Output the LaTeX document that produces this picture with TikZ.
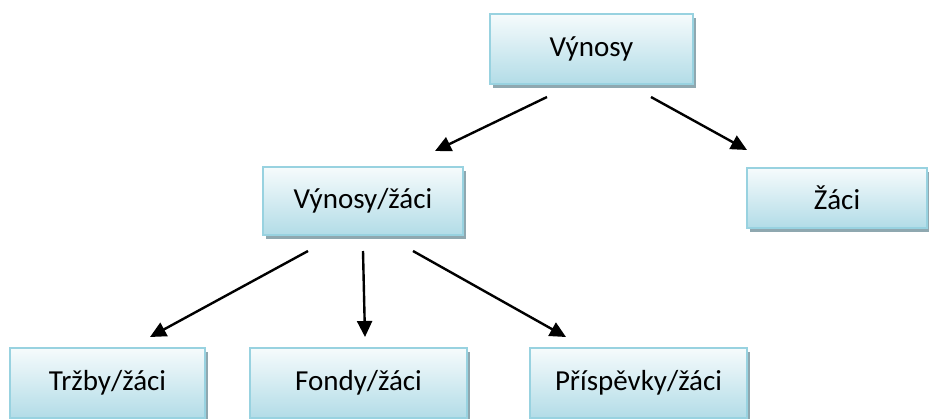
\documentclass[tikz,border=0pt]{standalone}
\usepackage{fontspec}
\setmainfont{Carlito}
\usepackage{tikz}
\usetikzlibrary{arrows.meta,shadows}

\definecolor{boxline}{RGB}{152,210,224}
\definecolor{boxtop}{RGB}{246,251,252}
\definecolor{boxbottom}{RGB}{178,220,231}
\definecolor{boxshadow}{RGB}{143,168,176}

\tikzset{
  item/.style={draw=boxline, line width=1.6pt, top color=boxtop, bottom color=boxbottom,
    drop shadow={shadow xshift=3pt, shadow yshift=-4pt, fill=boxshadow, opacity=1},
    minimum height=#1, inner sep=0pt, font=\fontsize{29}{35}\selectfont},
  item/.default=68pt,
  link/.style={line width=2.4pt, -{Triangle[length=16pt,width=15pt]}}
}

\begin{document}
\begin{tikzpicture}[x=1pt,y=-1pt]
  \useasboundingbox (0,0) rectangle (929,418);

  % boxes
  \node[item=70pt, minimum width=203pt] (vynosy) at (591.5,49) {Výnosy};
  \node[item, minimum width=200pt] (vynosyzaci) at (363,201) {Výnosy/žáci};
  \node[item=60pt, minimum width=180pt] (zaci) at (837,198) {Žáci};
  \node[item=70pt, minimum width=195pt] (trzby) at (107.5,383) {Tržby/žáci};
  \node[item=70pt, minimum width=217pt] (fondy) at (358.5,383) {Fondy/žáci};
  \node[item=70pt, minimum width=217pt] (prispevky) at (638.5,383) {Příspěvky/žáci};

  % arrow ends
  \coordinate (vl) at (547,97);
  \coordinate (vr) at (651,97);
  \coordinate (vzin) at (435,151);
  \coordinate (zin) at (747,150);
  \coordinate (ol) at (308,251);
  \coordinate (om) at (363,251);
  \coordinate (or) at (413,251);
  \coordinate (tin) at (150,337);
  \coordinate (fin) at (365,337);
  \coordinate (pin) at (566,337);

  \draw[link] (vl) -- (vzin);
  \draw[link] (vr) -- (zin);
  \draw[link] (ol) -- (tin);
  \draw[link] (om) -- (fin);
  \draw[link] (or) -- (pin);
\end{tikzpicture}
\end{document}
